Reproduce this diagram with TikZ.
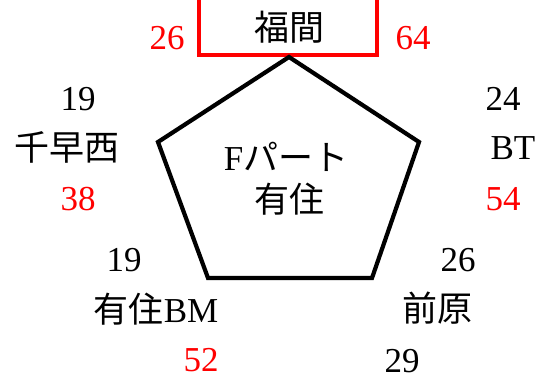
\documentclass[tikz,border=0pt]{standalone}
\usepackage{fontspec}
\setmainfont{Liberation Serif}
\newfontfamily\jp{Noto Sans CJK JP}
\begin{document}
\begin{tikzpicture}[x=1pt,y=-1pt,
  main node/.style={font=\fontsize{35}{40}\selectfont,inner sep=0pt},
  red node/.style={main node,text=red}]
  \useasboundingbox (0,0) rectangle (545,381);
  % corners of the pentagon and the box
  \coordinate (top) at (289,57);
  \coordinate (left) at (158,142);
  \coordinate (right) at (419,142);
  \coordinate (bl) at (208,278);
  \coordinate (br) at (372,278);
  \coordinate (boxa) at (199,-10);
  \coordinate (boxb) at (377,55);
  \draw[red,line width=4.2pt] (boxa) rectangle (boxb);
  \draw[line width=4.2pt,line join=miter] (top) -- (right) -- (br) -- (bl) -- (left) -- cycle;
  \node[main node]   (fukuma)  at (289,27)  {\jp 福間};
  \node[red node]    (fk-l)    at (167,38)  {26};
  \node[red node]    (fk-r)    at (413,38)  {64};
  \node[main node]   (fpart)   at (286,157) {F{\jp パート}};
  \node[main node]   (ariju)   at (289,199) {\jp 有住};
  \node[main node]   (ch-n)    at (78,99)   {19};
  \node[main node]   (chihaya) at (67,147)  {\jp 千早西};
  \node[red node]    (ch-r)    at (78,199)  {38};
  \node[main node]   (bt-n)    at (503,99)  {24};
  \node[main node]   (bt)      at (513,148) {BT};
  \node[red node]    (bt-r)    at (503,199) {54};
  \node[main node]   (bm-n)    at (124,260) {19};
  \node[main node]   (bm)      at (156,309) {{\jp 有住}BM};
  \node[red node]    (bm-r)    at (201,360) {52};
  \node[main node]   (mb-n)    at (458,260) {26};
  \node[main node]   (maebaru) at (437,308) {\jp 前原};
  \node[main node]   (mb-b)    at (402,361) {29};
\end{tikzpicture}
\end{document}
